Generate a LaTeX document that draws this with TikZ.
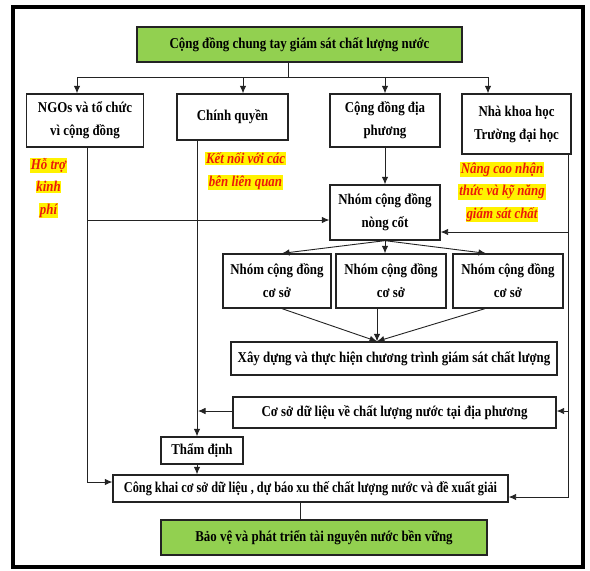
\documentclass[tikz,border=0pt]{standalone}
\usepackage{fontspec}
\usetikzlibrary{arrows.meta}
\newfontfamily\dfont[FakeStretch=0.86]{Liberation Serif}
\newfontfamily\dfontc[FakeStretch=0.82]{Liberation Serif}
\definecolor{gfill}{RGB}{146,208,80}
\definecolor{hred}{RGB}{235,25,10}
\definecolor{bord}{RGB}{35,35,35}
\newcommand{\hlb}[1]{{\setlength{\fboxsep}{0.8pt}\colorbox{yellow}{#1}}}
\begin{document}
\begin{tikzpicture}[x=1pt,y=-1pt,
  box/.style={draw=bord, line width=1.3pt, fill=white, inner sep=0pt, align=center,
    font=\dfont\bfseries\fontsize{15}{23}\selectfont, text=black},
  gbox/.style={box, fill=gfill},
  note/.style={inner sep=0pt, align=center,
    font=\dfont\bfseries\itshape\fontsize{15}{22.5}\selectfont, text=hred},
  ln/.style={draw=bord, line width=0.9pt},
  arr/.style={ln, -{Latex[length=7.5pt,width=6.5pt]}}]
\useasboundingbox (0,0) rectangle (590,571);
\draw[line width=3.5pt, black] (13,7) rectangle (583,567);

% nodes
\node[gbox, minimum width=325pt, minimum height=35pt] (title) at (299.5,44.5) {Cộng đồng chung tay giám sát chất lượng nước};
\node[box, minimum width=117pt, minimum height=53pt] (ngo) at (85,120.5) {NGOs và tổ chức\\vì cộng đồng};
\node[box, minimum width=111pt, minimum height=46pt] (cq) at (232.5,117) {Chính quyền};
\node[box, minimum width=110pt, minimum height=53pt] (cd) at (385,120.5) {Cộng đồng địa\\phương};
\node[box, minimum width=109pt, minimum height=60pt] (nkh) at (516.5,124) {Nhà khoa học\\Trường đại học};
\node[box, minimum width=110pt, minimum height=55pt] (core) at (385,212.5) {Nhóm cộng đồng\\nòng cốt};
\node[box, minimum width=108pt, minimum height=54pt] (sa) at (277,281) {Nhóm cộng đồng\\cơ sở};
\node[box, minimum width=110pt, minimum height=54pt] (sb) at (391,281) {Nhóm cộng đồng\\cơ sở};
\node[box, minimum width=110pt, minimum height=54pt] (sc) at (508,281) {Nhóm cộng đồng\\cơ sở};
\node[box, minimum width=326pt, minimum height=33pt] (build) at (394,358.5) {Xây dựng và thực hiện chương trình giám sát chất lượng};
\node[box, minimum width=323pt, minimum height=31pt] (db) at (394.5,412.5) {Cơ sở dữ liệu về chất lượng nước tại địa phương};
\node[box, minimum width=82pt, minimum height=27pt] (td) at (202,450.5) {Thẩm định};
\node[box, minimum width=395pt, minimum height=27pt, font=\dfontc\bfseries\fontsize{15}{23}\selectfont] (ck) at (310.5,488.5) {Công khai cơ sở dữ liệu , dự báo xu thế chất lượng nước và đề xuất giải};
\node[gbox, minimum width=326pt, minimum height=35pt] (bv) at (324,537.5) {Bảo vệ và phát triển tài nguyên nước bền vững};

% notes
\node[note] (n1) at (48.5,188) {\hlb{Hỗ trợ}\\\hlb{kinh}\\\hlb{phí}};
\node[note] (n2) at (245.5,171) {\hlb{Kết nối với các}\\\hlb{bên liên quan}};
\node[note] (n3) at (502,192) {\hlb{Nâng cao nhận}\\\hlb{thức và kỹ năng}\\\hlb{giám sát chất}};

% coordinates
\coordinate (hub) at (288,77);
\coordinate (hl) at (77,77);
\coordinate (hr) at (488,77);
\coordinate (hcq) at (243,77);
\coordinate (hcd) at (385,77);
\coordinate (ngoL) at (87,482);
\coordinate (ngoB) at (87,220);
\coordinate (cqx) at (197,0);
\coordinate (dbA) at (198,411);
\coordinate (nkL) at (568,497);
\coordinate (nkB) at (568,232);
\coordinate (nkC) at (568,411);
\coordinate (saX) at (282,0);
\coordinate (scX) at (486,0);
\coordinate (saB) at (282,0);
\coordinate (sbB) at (377,0);
\coordinate (scB) at (485,0);
\coordinate (conv) at (377,0);
\coordinate (ckX) at (300,0);

% top distribution
\draw[ln] (title.south -| hub) -- (hub);
\draw[ln] (hl) -- (hr);
\draw[arr] (hl) -- (ngo.north -| hl);
\draw[arr] (hcq) -- (cq.north -| hcq);
\draw[arr] (hcd) -- (cd.north);
\draw[arr] (hr) -- (nkh.north -| hr);

% NGO line
\draw[arr] (ngo.south -| ngoL) -- (ngoL) -- (ck.west |- ngoL);
\draw[arr] (ngoB) -- (core.west |- ngoB);

% Chinh quyen line
\draw[arr] (cq.south -| cqx) -- (td.north -| cqx);
\draw[arr] (db.west |- dbA) -- (dbA);
\draw[arr] (td.south -| cqx) -- (ck.north -| cqx);

% community
\draw[arr] (cd.south) -- (core.north);

% scientists line
\draw[arr] (nkh.south -| nkL) -- (nkL) -- (ck.east |- nkL);
\draw[arr] (nkB) -- (core.east |- nkB);
\draw[arr] (nkC) -- (db.east |- nkC);

% core to sub groups
\draw[arr] (core.south) -- (sa.north -| saX);
\draw[arr] (core.south) -- (sb.north -| core.south);
\draw[arr] (core.south) -- (sc.north -| scX);

% sub groups to build
\draw[arr] (sa.south -| saB) -- (build.north -| conv);
\draw[arr] (sb.south -| sbB) -- (build.north -| conv);
\draw[arr] (sc.south -| scB) -- (build.north -| conv);

% final
\draw[ln] (ck.south -| ckX) -- (bv.north -| ckX);
\end{tikzpicture}
\end{document}
